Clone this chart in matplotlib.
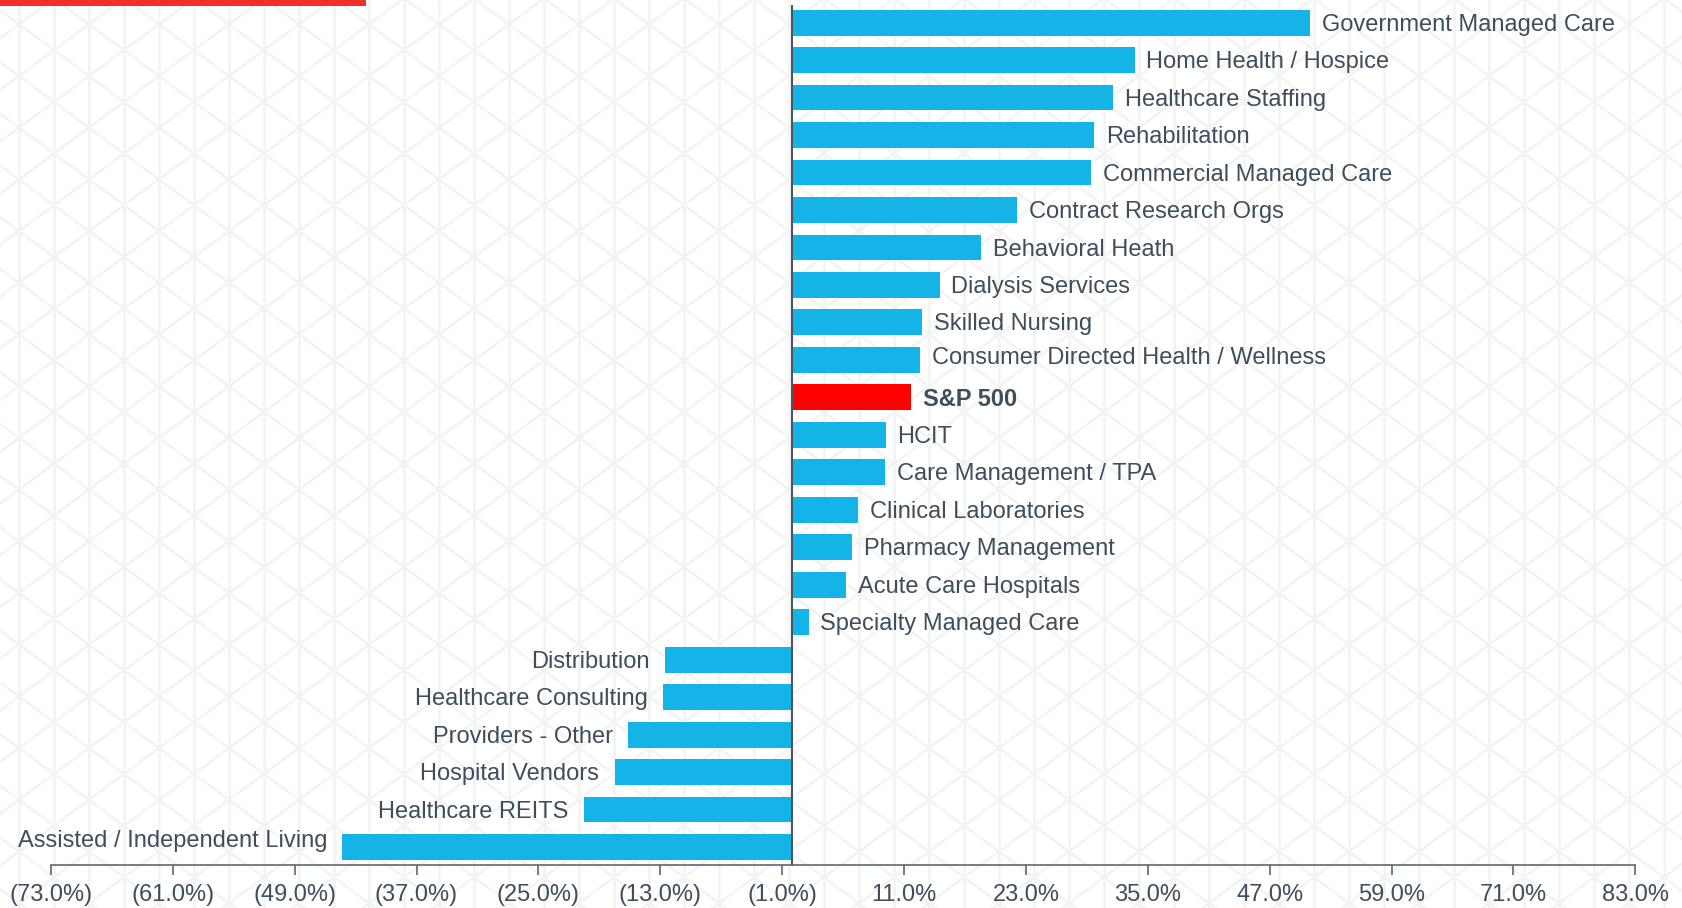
import numpy as np
import matplotlib
matplotlib.use("Agg")
import matplotlib.pyplot as plt
from matplotlib.collections import LineCollection

plt.rcParams["font.family"] = ["Liberation Sans", "DejaVu Sans"]

categories = [
    "Government Managed Care", "Home Health / Hospice", "Healthcare Staffing",
    "Rehabilitation", "Commercial Managed Care", "Contract Research Orgs",
    "Behavioral Heath", "Dialysis Services", "Skilled Nursing",
    "Consumer Directed Health / Wellness", "S&P 500", "HCIT",
    "Care Management / TPA", "Clinical Laboratories", "Pharmacy Management",
    "Acute Care Hospitals", "Specialty Managed Care", "Distribution",
    "Healthcare Consulting", "Providers - Other", "Hospital Vendors",
    "Healthcare REITS", "Assisted / Independent Living",
]
values = [
    51.0, 33.7, 31.6, 29.7, 29.4, 22.1, 18.6, 14.5, 12.8, 12.6, 11.7, 9.2,
    9.1, 6.5, 5.9, 5.3, 1.6, -12.5, -12.7, -16.2, -17.5, -20.5, -44.3,
]
tick_values = [-73, -61, -49, -37, -25, -13, -1, 11, 23, 35, 47, 59, 71, 83]
highlight = "S&P 500"

BLUE = "#15b4e8"
RED = "#ff0000"
TEXT = "#3e4e5c"
AXIS = "#5a6a77"

W, H = 1683, 908
fig = plt.figure(figsize=(W / 100, H / 100), dpi=100)
fig.patch.set_facecolor("white")

# faint triangle lattice in the background
bg = fig.add_axes([0, 0, 1, 1], zorder=0)
bg.set_xlim(0, W)
bg.set_ylim(H, 0)
bg.axis("off")
segs = []
for x in np.arange(19, W + 35, 35):
    segs.append([(x, 0), (x, H)])
slope = 51.7 / 70.0
for m in range(-60, 60):
    y0 = 24.3 + 51.7 * m
    segs.append([(-40, y0 - slope * 59), (W + 40, y0 + slope * (W + 21))])
    segs.append([(-40, y0 + slope * 59), (W + 40, y0 - slope * (W + 21))])
bg.add_collection(LineCollection(segs, colors="#f3f3f3", linewidths=1.8, zorder=1))
bg.add_patch(plt.Rectangle((0, 0), 366, 6, color="#ee3124", lw=0, zorder=5))

ax = fig.add_axes([50.9 / W, 43 / H, 1584.4 / W, 860 / H], zorder=1)
ax.patch.set_alpha(0)

y = np.arange(len(categories))
colors = [RED if c == highlight else BLUE for c in categories]
ax.barh(y, values, height=0.69, color=colors, zorder=2)

label_nudge = {"Assisted / Independent Living": 6, "Consumer Directed Health / Wellness": 3}
for yi, cat, v in zip(y, categories, values):
    bold = cat == highlight
    dy = -1.5 + label_nudge.get(cat, 0)
    if v >= 0:
        ax.annotate(cat, (v, yi), xytext=(8.5, dy), textcoords="offset points",
                    ha="left", va="center", fontsize=17, color=TEXT,
                    fontweight="bold" if bold else "normal")
    else:
        ax.annotate(cat, (v, yi), xytext=(-11, dy), textcoords="offset points",
                    ha="right", va="center", fontsize=17, color=TEXT)

ax.axvline(0, color="#4a5560", lw=1.5, zorder=3)
ax.set_xlim(-73, 83)
ax.set_ylim(len(categories) - 0.52, -0.47)

def fmt(v):
    return f"({abs(v):.1f}%)" if v < 0 else f"{v:.1f}%"

ax.set_xticks(tick_values)
ax.set_xticklabels([fmt(v) for v in tick_values])
ax.tick_params(axis="x", direction="out", length=7, width=1.2, color=AXIS,
               labelsize=17, labelcolor=TEXT, pad=7)
ax.set_yticks([])
for side in ["top", "right", "left"]:
    ax.spines[side].set_visible(False)
ax.spines["bottom"].set_color(AXIS)
ax.spines["bottom"].set_linewidth(1.2)

fig.savefig("out.png", dpi=100)
